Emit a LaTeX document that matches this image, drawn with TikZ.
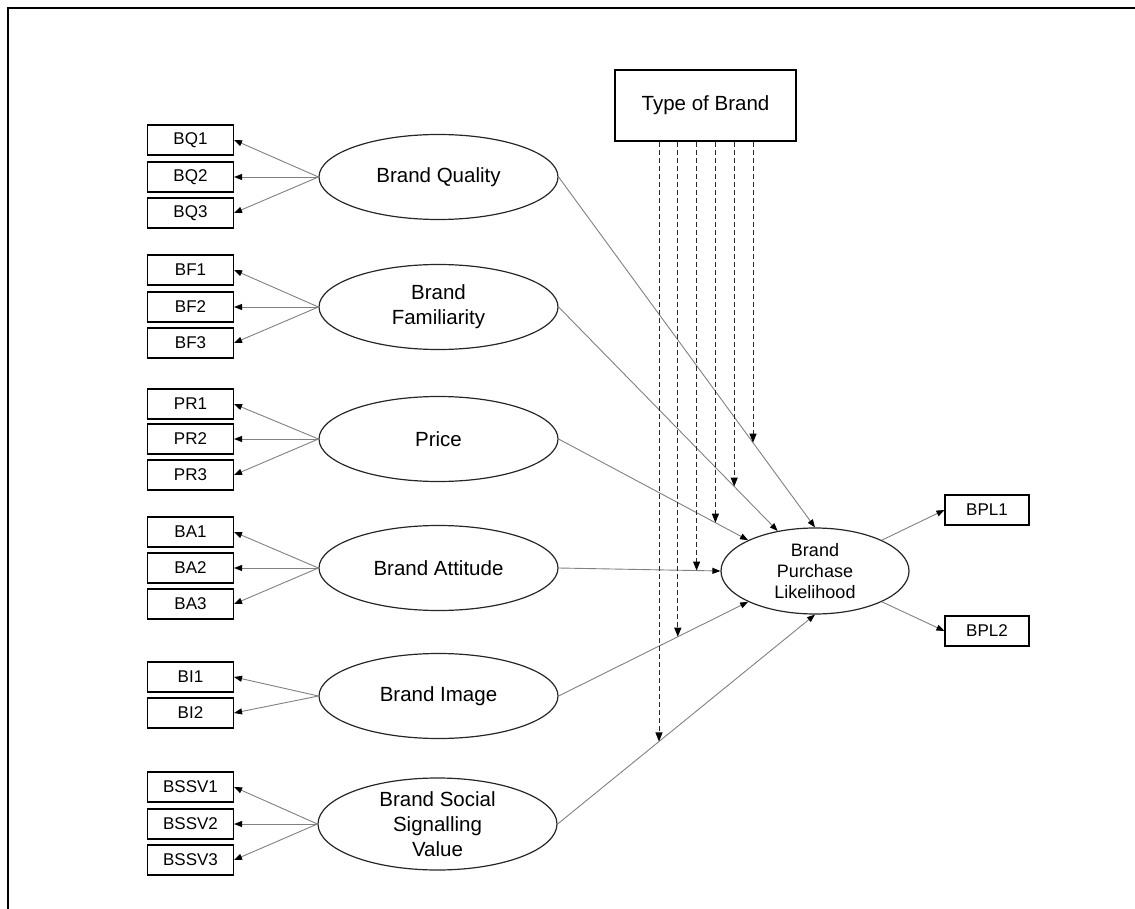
\documentclass[tikz,border=0pt]{standalone}
\usepackage{fontspec}
\setmainfont{Liberation Sans}
\usetikzlibrary{shapes.geometric,arrows.meta,intersections}
\begin{document}
\begin{tikzpicture}[x=1pt,y=-1pt,
  ind/.style={draw=black,line width=1.1pt,minimum width=86pt,minimum height=30pt,inner sep=0pt,font=\fontsize{17}{20}\selectfont},
  lat/.style={ellipse,draw=black!85,line width=1.2pt,minimum width=239pt,minimum height=85pt,inner sep=0pt,align=center,font=\fontsize{20.5}{25}\selectfont},
  load/.style={draw=black!50,line width=0.9pt,-{Triangle[length=8pt,width=6pt,color=black]}},
  moder/.style={draw=black!85,line width=1pt,dash pattern=on 5pt off 3pt,-{Triangle[length=9pt,width=7pt,color=black]}}]
\useasboundingbox (0,0) rectangle (1135,909);
\draw[line width=2pt] (1135,8) -- (8,8) -- (8,909);

% moderator
\node[draw=black,line width=1.3pt,minimum width=181pt,minimum height=71pt,inner sep=0pt,font=\fontsize{20.5}{25}\selectfont] (type) at (705.5,105.5) {Type of Brand};

% latent variables
\node[lat] (bq) at (438.5,177) {Brand Quality};
\node[lat] (bf) at (438.5,307) {Brand\\Familiarity};
\node[lat] (pr) at (438.5,439) {Price};
\node[lat] (ba) at (438.5,568) {Brand Attitude};
\node[lat] (bi) at (438.5,696) {Brand Image};
\node[lat] (bssv) at (437.5,824) {Brand Social\\Signalling\\Value};
\node[lat,minimum width=188pt,minimum height=86pt,font=\fontsize{18}{21}\selectfont] (bpl) at (815,571) {Brand\\Purchase\\Likelihood};

% indicators
\node[ind] (bq1) at (190.5,140) {BQ1};
\node[ind] (bq2) at (190.5,177) {BQ2};
\node[ind] (bq3) at (190.5,213) {BQ3};
\node[ind] (bf1) at (190.5,270) {BF1};
\node[ind] (bf2) at (190.5,307) {BF2};
\node[ind] (bf3) at (190.5,343) {BF3};
\node[ind] (pr1) at (190.5,404) {PR1};
\node[ind] (pr2) at (190.5,439) {PR2};
\node[ind] (pr3) at (190.5,475) {PR3};
\node[ind] (ba1) at (190.5,532) {BA1};
\node[ind] (ba2) at (190.5,568) {BA2};
\node[ind] (ba3) at (190.5,604) {BA3};
\node[ind] (bi1) at (190.5,677) {BI1};
\node[ind] (bi2) at (190.5,713) {BI2};
\node[ind] (bssv1) at (190.5,787) {BSSV1};
\node[ind] (bssv2) at (190.5,824) {BSSV2};
\node[ind] (bssv3) at (190.5,860) {BSSV3};
\node[ind,minimum width=84pt] (bpl1) at (987,510) {BPL1};
\node[ind,minimum width=84pt] (bpl2) at (987,631) {BPL2};

% loadings
\foreach \l/\n in {bq/bq1,bq/bq2,bq/bq3,bf/bf1,bf/bf2,bf/bf3,pr/pr1,pr/pr2,pr/pr3,ba/ba1,ba/ba2,ba/ba3,bi/bi1,bi/bi2,bssv/bssv1,bssv/bssv2,bssv/bssv3}
  \draw[load] (\l.west) -- (\n.east);
\draw[load] (bpl.north east) -- (bpl1.west);
\draw[load] (bpl.south east) -- (bpl2.west);

% structural paths
\draw[load,name path=pbq] (bq.east) -- (bpl.north);
\draw[load,name path=pbf] (bf.east) -- (bpl.133);
\draw[load,name path=ppr] (pr.east) -- (bpl.north west);
\draw[load,name path=pba] (ba.east) -- (bpl.west);
\draw[load,name path=pbi] (bi.east) -- (bpl.south west);
\draw[load,name path=pbssv] (bssv.east) -- (bpl.south);

% moderation
\coordinate (t1) at ([xshift=-46.5pt]type.south);
\coordinate (t2) at ([xshift=-27.7pt]type.south);
\coordinate (t3) at ([xshift=-8.9pt]type.south);
\coordinate (t4) at ([xshift=9.9pt]type.south);
\coordinate (t5) at ([xshift=28.7pt]type.south);
\coordinate (t6) at ([xshift=47.5pt]type.south);
\path[name path=v1] (t1) -- ++(0,780);
\path[name path=v2] (t2) -- ++(0,780);
\path[name path=v3] (t3) -- ++(0,780);
\path[name path=v4] (t4) -- ++(0,780);
\path[name path=v5] (t5) -- ++(0,780);
\path[name path=v6] (t6) -- ++(0,780);
\path[name intersections={of=v1 and pbssv,by=m1}];
\path[name intersections={of=v2 and pbi,by=m2}];
\path[name intersections={of=v3 and pba,by=m3}];
\path[name intersections={of=v4 and ppr,by=m4}];
\path[name intersections={of=v5 and pbf,by=m5}];
\path[name intersections={of=v6 and pbq,by=m6}];
\foreach \i in {1,...,6} \draw[moder] (t\i) -- (m\i);
\end{tikzpicture}
\end{document}
